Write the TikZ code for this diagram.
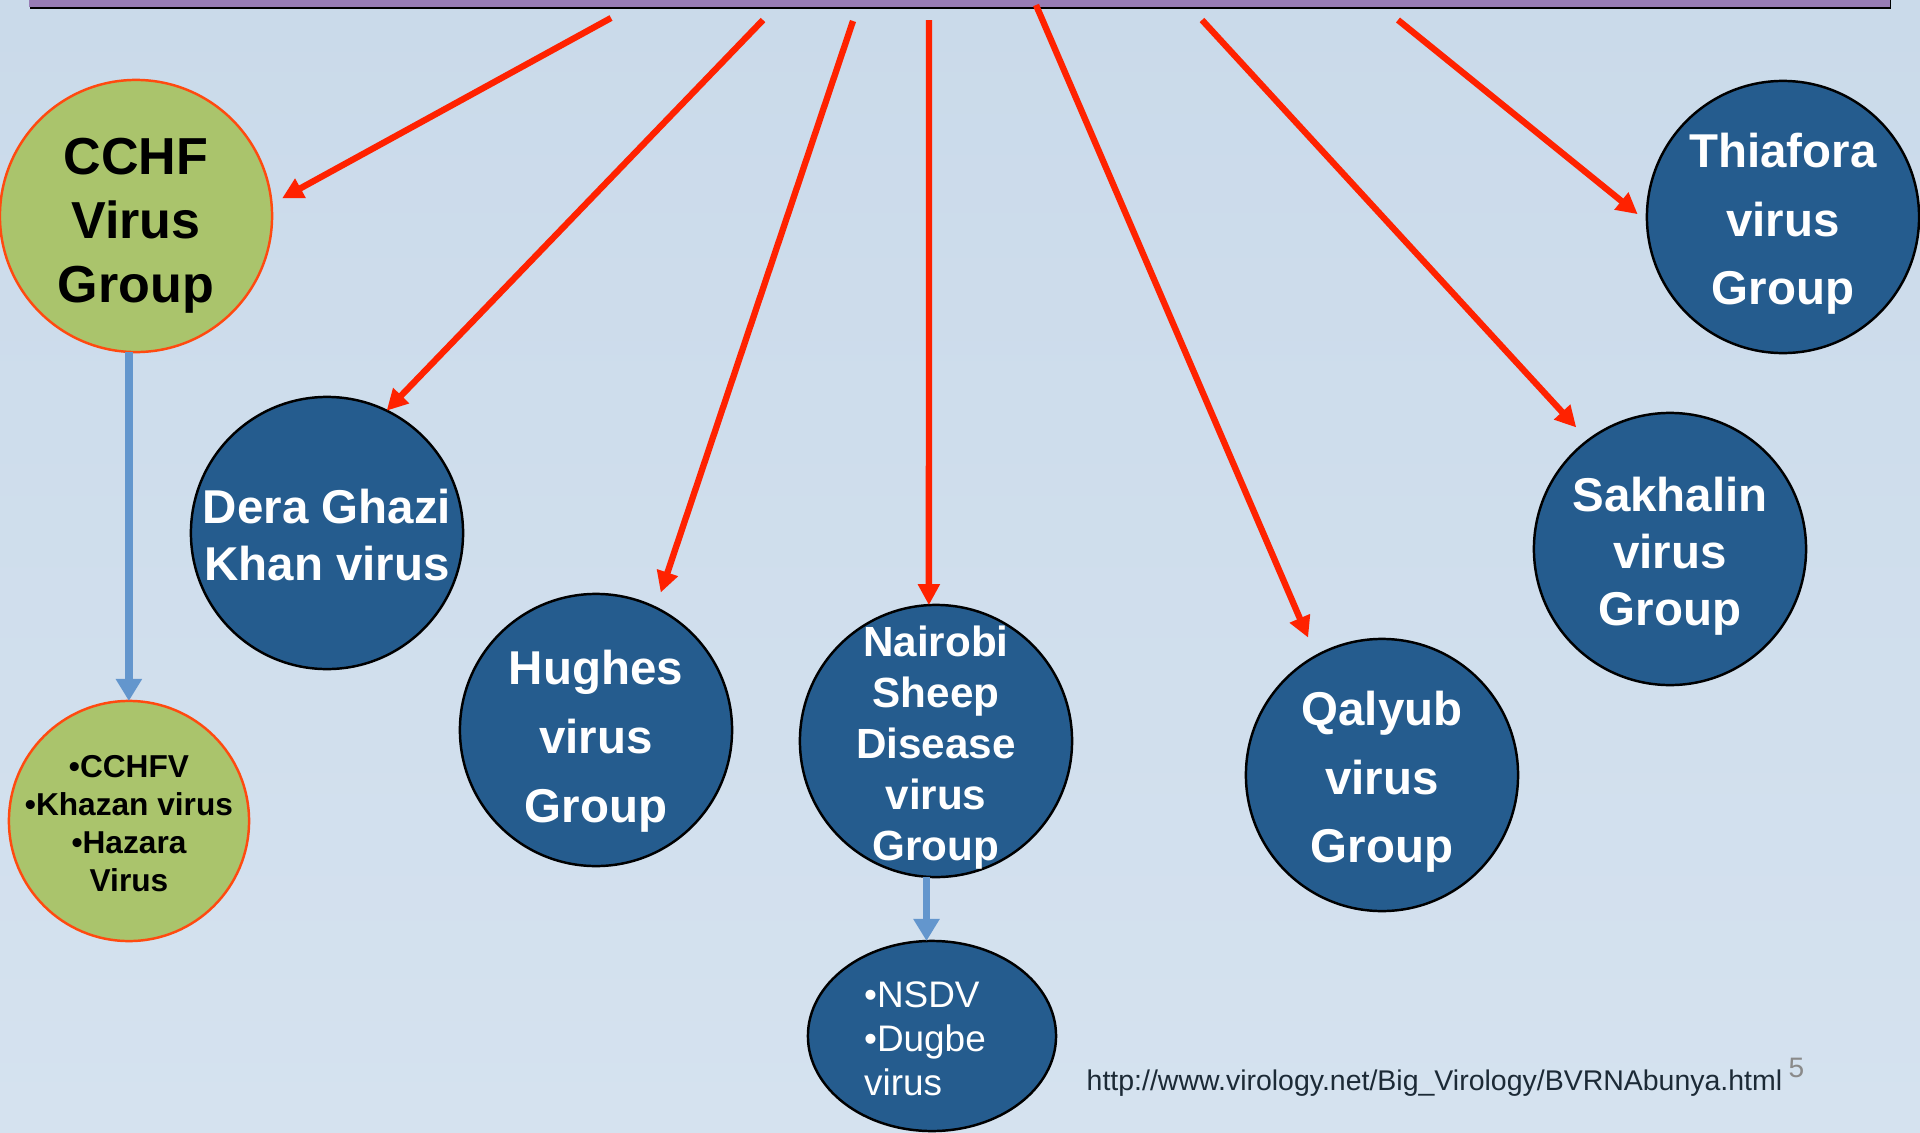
\documentclass[tikz,border=0pt]{standalone}
\usepackage{fontspec}
\setmainfont{Liberation Sans}
\usetikzlibrary{arrows.meta,calc,shapes.geometric}
\definecolor{bgtop}{HTML}{CADAEA}
\definecolor{bgbot}{HTML}{D5E2EF}
\definecolor{barpurple}{HTML}{977CB4}
\definecolor{greenfill}{HTML}{AAC46C}
\definecolor{orangeedge}{HTML}{FF4A10}
\definecolor{nodeblue}{HTML}{255C8E}
\definecolor{arrowred}{HTML}{FF2200}
\definecolor{arrowblue}{HTML}{6396CD}
\definecolor{urlcol}{HTML}{1C2A36}
\definecolor{pagegrey}{HTML}{8A8A8A}
\newcommand\mystrut[1]{\rule{0pt}{#1}}
\begin{document}
\begin{tikzpicture}[x=0.01cm,y=-0.01cm,
  greencirc/.style={circle, draw=orangeedge, line width=0.7pt, fill=greenfill, text=black,
    align=center, minimum size=2.72cm, inner sep=-0.4cm, outer sep=0pt},
  bluecirc/.style={circle, draw=black, line width=0.7pt, fill=nodeblue, text=white,
    align=center, minimum size=2.72cm, inner sep=-0.4cm, outer sep=0pt},
  redarrow/.style={draw=arrowred, line width=1.8pt, -{Triangle[length=0.21cm,width=0.21cm]}},
  bluearrow/.style={draw=arrowblue, line width=2.2pt, -{Triangle[length=0.22cm,width=0.25cm]}},
  bigbold/.style={font=\bfseries\fontsize{13.5}{16.2}\selectfont},
  bigboldwide/.style={font=\bfseries\fontsize{13.5}{19.5}\selectfont}
]
\useasboundingbox (0,0) rectangle (1920,1133);
\shade[top color=bgtop, bottom color=bgbot] (0,0) rectangle (1920,1133);
% top bar
\fill[black] (30,-5) rectangle (1891,9);
\fill[barpurple] (29,-5) rectangle (1890,7);

% nodes
\node[greencirc, font=\bfseries\fontsize{14.8}{18.2}\selectfont] (cchf) at (136,216) {\mystrut{15.7pt}CCHF\\Virus\\Group};
\node[greencirc, minimum size=2.4cm, font=\bfseries\fontsize{9}{10.8}\selectfont] (cchfsub) at (129,821) {\mystrut{7.6pt}•CCHFV\\•Khazan virus\\•Hazara\\Virus};
\node[bluecirc, bigbold] (dera) at (327,533) {\mystrut{10.9pt}Dera Ghazi\\Khan virus};
\node[bluecirc, bigboldwide] (hughes) at (596,730) {\mystrut{16.2pt}Hughes\\virus\\Group};
\node[bluecirc, font=\bfseries\fontsize{12}{14.5}\selectfont] (nairobi) at (936,741) {\mystrut{12.3pt}Nairobi\\Sheep\\Disease\\virus\\Group};
\node[bluecirc, ellipse, inner sep=0pt, minimum width=2.48cm, minimum height=1.9cm, align=left,
  font=\fontsize{10.5}{12.5}\selectfont] (nsdv) at (932,1036) {\mystrut{9.1pt}•NSDV\\•Dugbe\rule{4pt}{0pt}\\virus};
\node[bluecirc, bigboldwide] (qalyub) at (1382,775) {\mystrut{13.7pt}Qalyub\\virus\\Group};
\node[bluecirc, bigbold] (sakhalin) at (1670,549) {\mystrut{14.1pt}Sakhalin\\virus\\Group};
\node[bluecirc, bigboldwide] (thiafora) at (1783,217) {\mystrut{13.7pt}Thiafora\\virus\\Group};

% arrow start points on the bar
\coordinate (s1) at (611,18);
\coordinate (s2) at (763,20);
\coordinate (s3) at (853,21);
\coordinate (s4) at (929,20);
\coordinate (s5) at (1036,5);
\coordinate (s6) at (1202,20);
\coordinate (s7) at (1398,20);

\draw[redarrow, shorten >=0.12cm] (s1) -- (cchf.5);
\draw[redarrow] (s2) -- (dera.64);
\draw[redarrow, shorten >=0.16cm] (s3) -- (hughes.64);
\draw[redarrow] (s4) -- (nairobi.93);
\draw[redarrow, shorten >=0.2cm] (s5) -- (qalyub.119);
\draw[redarrow, shorten >=0.175cm] (s6) -- (sakhalin.127);
\draw[redarrow, shorten >=0.12cm] (s7) -- (thiafora.182);

\draw[bluearrow] (cchf.267) -- (cchf.267 |- cchfsub.north);
\draw[bluearrow] (nairobi.266) -- (nairobi.266 |- nsdv.north);

% footer
\node[anchor=base west, inner sep=0pt, text=urlcol, font=\fontsize{8.1}{10}\selectfont] (url) at (1086,1090)
  {http://www.virology.net/Big\_Virology/BVRNAbunya.html};
\node[anchor=base west, inner sep=0pt, text=pagegrey, font=\fontsize{8}{10}\selectfont] (pagenum) at (1788,1077) {5};
\end{tikzpicture}
\end{document}
